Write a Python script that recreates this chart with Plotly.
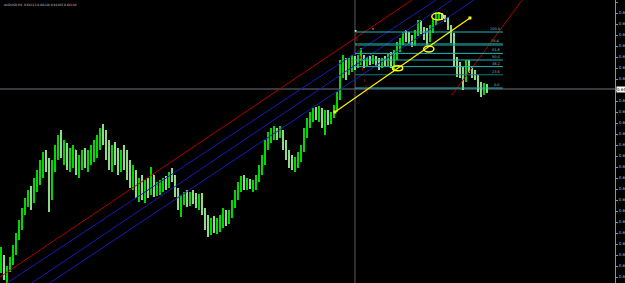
import plotly.graph_objects as go

# ---------------- data (AUDUSD, H4) ----------------
bar_open = [
 0.6230,0.6242,0.6225,0.6230,0.6238,0.6250,0.6262,0.6275,0.6288,0.6298,
 0.6305,0.6300,0.6315,0.6325,0.6332,0.6340,0.6335,0.6305,0.6332,0.6350,
 0.6360,0.6348,0.6352,0.6340,0.6345,0.6350,0.6332,0.6340,0.6345,0.6338,
 0.6342,0.6350,0.6355,0.6360,0.6368,0.6362,0.6350,0.6338,0.6350,0.6342,
 0.6335,0.6345,0.6338,0.6328,0.6320,0.6325,0.6310,0.6315,0.6305,0.6312,
 0.6308,0.6325,0.6310,0.6313,0.6315,0.6318,0.6315,0.6325,0.6322,0.6308,
 0.6295,0.6300,0.6302,0.6298,0.6303,0.6300,0.6297,0.6302,0.6290,0.6275,
 0.6270,0.6278,0.6272,0.6275,0.6280,0.6285,0.6280,0.6288,0.6295,0.6305,
 0.6314,0.6320,0.6315,0.6318,0.6314,0.6316,0.6322,0.6330,0.6340,0.6355,
 0.6363,0.6367,0.6370,0.6365,0.6369,0.6355,0.6345,0.6340,0.6335,0.6338,
 0.6342,0.6352,0.6365,0.6375,0.6382,0.6388,0.6384,0.6390,0.6380,0.6385,
 0.6382,0.6386,0.6392,0.6402,0.6432,0.6438,0.6428,0.6435,0.6438,0.6434,
 0.6440,0.6442,0.6438,0.6440,0.6438,0.6442,0.6439,0.6435,0.6440,0.6438,
 0.6442,0.6438,0.6445,0.6452,0.6458,0.6464,0.6462,0.6460,0.6457,0.6466,
 0.6475,0.6470,0.6464,0.6460,0.6468,0.6478,0.6482,0.6485,0.6483,0.6481,
 0.6474,0.6462,0.6438,0.6430,0.6427,0.6420,0.6435,0.6430,0.6425,0.6422,
 0.6412,0.6410,0.6414]
bar_high = [
 0.6253,0.6245,0.6234,0.6243,0.6255,0.6267,0.6280,0.6292,0.6302,0.6310,
 0.6314,0.6322,0.6330,0.6340,0.6348,0.6350,0.6342,0.6340,0.6355,0.6365,
 0.6370,0.6360,0.6357,0.6352,0.6355,0.6350,0.6345,0.6350,0.6352,0.6350,
 0.6355,0.6360,0.6365,0.6372,0.6376,0.6370,0.6360,0.6355,0.6358,0.6352,
 0.6350,0.6355,0.6350,0.6340,0.6335,0.6330,0.6322,0.6325,0.6320,0.6322,
 0.6333,0.6325,0.6318,0.6320,0.6322,0.6324,0.6328,0.6332,0.6325,0.6312,
 0.6305,0.6308,0.6310,0.6308,0.6310,0.6307,0.6306,0.6307,0.6292,0.6285,
 0.6282,0.6284,0.6282,0.6285,0.6292,0.6290,0.6290,0.6300,0.6310,0.6318,
 0.6324,0.6325,0.6322,0.6321,0.6320,0.6325,0.6335,0.6345,0.6360,0.6368,
 0.6372,0.6374,0.6372,0.6374,0.6370,0.6360,0.6350,0.6345,0.6343,0.6348,
 0.6355,0.6372,0.6382,0.6388,0.6392,0.6393,0.6394,0.6392,0.6390,0.6390,
 0.6388,0.6395,0.6408,0.6440,0.6445,0.6442,0.6442,0.6445,0.6444,0.6445,
 0.6452,0.6445,0.6443,0.6444,0.6445,0.6444,0.6442,0.6442,0.6444,0.6446,
 0.6448,0.6450,0.6458,0.6462,0.6468,0.6470,0.6468,0.6465,0.6470,0.6480,
 0.6480,0.6473,0.6472,0.6475,0.6482,0.6486,0.6488,0.6487,0.6485,0.6483,
 0.6475,0.6467,0.6443,0.6438,0.6433,0.6440,0.6440,0.6434,0.6430,0.6425,
 0.6418,0.6417,0.6416]
bar_low = [
 0.6227,0.6220,0.6217,0.6228,0.6235,0.6245,0.6260,0.6270,0.6285,0.6293,
 0.6290,0.6297,0.6308,0.6315,0.6322,0.6328,0.6288,0.6300,0.6328,0.6340,
 0.6342,0.6335,0.6330,0.6328,0.6332,0.6325,0.6322,0.6330,0.6332,0.6328,
 0.6335,0.6338,0.6342,0.6350,0.6355,0.6340,0.6330,0.6328,0.6335,0.6325,
 0.6328,0.6330,0.6320,0.6312,0.6310,0.6302,0.6298,0.6300,0.6297,0.6302,
 0.6305,0.6303,0.6304,0.6305,0.6308,0.6310,0.6312,0.6318,0.6303,0.6290,
 0.6283,0.6295,0.6293,0.6294,0.6296,0.6292,0.6290,0.6285,0.6270,0.6263,
 0.6265,0.6267,0.6266,0.6268,0.6272,0.6274,0.6276,0.6282,0.6292,0.6300,
 0.6308,0.6310,0.6310,0.6311,0.6308,0.6310,0.6318,0.6325,0.6335,0.6350,
 0.6357,0.6360,0.6360,0.6362,0.6350,0.6340,0.6332,0.6330,0.6328,0.6332,
 0.6338,0.6348,0.6362,0.6372,0.6378,0.6380,0.6378,0.6372,0.6365,0.6375,
 0.6376,0.6382,0.6388,0.6400,0.6422,0.6420,0.6425,0.6428,0.6430,0.6432,
 0.6435,0.6432,0.6434,0.6435,0.6436,0.6434,0.6430,0.6432,0.6434,0.6434,
 0.6432,0.6430,0.6440,0.6448,0.6455,0.6458,0.6456,0.6453,0.6454,0.6464,
 0.6466,0.6460,0.6455,0.6458,0.6467,0.6475,0.6480,0.6480,0.6478,0.6470,
 0.6457,0.6433,0.6423,0.6422,0.6410,0.6418,0.6427,0.6422,0.6420,0.6408,
 0.6403,0.6405,0.6407]
bar_close = [
 0.6245,0.6225,0.6230,0.6238,0.6250,0.6262,0.6275,0.6288,0.6298,0.6305,
 0.6300,0.6315,0.6325,0.6332,0.6340,0.6335,0.6305,0.6332,0.6350,0.6360,
 0.6348,0.6352,0.6340,0.6345,0.6350,0.6332,0.6340,0.6345,0.6338,0.6342,
 0.6350,0.6355,0.6360,0.6368,0.6362,0.6350,0.6338,0.6350,0.6342,0.6335,
 0.6345,0.6338,0.6328,0.6320,0.6325,0.6310,0.6315,0.6305,0.6312,0.6308,
 0.6325,0.6310,0.6313,0.6315,0.6318,0.6315,0.6325,0.6322,0.6308,0.6295,
 0.6300,0.6302,0.6298,0.6303,0.6300,0.6297,0.6302,0.6290,0.6275,0.6270,
 0.6278,0.6272,0.6275,0.6280,0.6285,0.6280,0.6288,0.6295,0.6305,0.6314,
 0.6320,0.6315,0.6318,0.6314,0.6316,0.6322,0.6330,0.6340,0.6355,0.6363,
 0.6367,0.6370,0.6365,0.6369,0.6355,0.6345,0.6340,0.6335,0.6338,0.6342,
 0.6352,0.6365,0.6375,0.6382,0.6388,0.6384,0.6390,0.6380,0.6385,0.6382,
 0.6386,0.6392,0.6402,0.6432,0.6438,0.6428,0.6435,0.6438,0.6434,0.6440,
 0.6442,0.6438,0.6440,0.6438,0.6442,0.6439,0.6435,0.6440,0.6438,0.6442,
 0.6438,0.6445,0.6452,0.6458,0.6464,0.6462,0.6460,0.6457,0.6466,0.6475,
 0.6470,0.6464,0.6460,0.6468,0.6478,0.6482,0.6485,0.6483,0.6481,0.6474,
 0.6462,0.6438,0.6430,0.6427,0.6420,0.6435,0.6430,0.6425,0.6422,0.6412,
 0.6410,0.6414,0.6411]

symbol_title = "AUDUSD,H4  0.64113 0.64120 0.64105 0.64110"

# price-axis ticks
tick_values = [0.6498, 0.6487, 0.6476, 0.6465, 0.6454, 0.6443, 0.6432, 0.6421,
               0.6410, 0.6399, 0.6388, 0.6377, 0.6366, 0.6355, 0.6344, 0.6333,
               0.6322, 0.6311, 0.6300, 0.6289, 0.6278, 0.6267, 0.6256, 0.6245,
               0.6234, 0.6223]
tick_labels = ["%.4f" % v for v in tick_values]

# drawing objects (bar index, price)
red_channel = [(-0.33, 0.6223, 137.0, 0.6500), (150.3, 0.6405, 173.7, 0.6500)]
blue_channel = [(2.0, 0.6217, 145.0, 0.6500),
                (10.3, 0.6217, 150.3, 0.6500),
                (16.3, 0.6217, 157.7, 0.6500)]
yellow_trend = (111.3, 0.6388, 156.3, 0.6482)
yellow_ellipses = [(132.2, 0.64317, 1.7, 0.00025),
                   (142.6, 0.6451, 1.7, 0.0003),
                   (145.6, 0.64835, 2.0, 0.00035)]
fib_left, fib_right = 118.0, 167.3
fib_low, fib_high = 0.6412, 0.6468
fib_levels = [0.0, 23.6, 38.2, 50.0, 61.8, 76.4, 78.6, 100.0]
fib_texts = ["0.0", "23.6", "38.2", "50.0", "61.8", "", "76.4", "100.0"]
fib_dark = [False, True, False, False, False, True, False, False]
fib_trend = (118.2, 0.6468, 122.3, 0.6403)
vline_bar = 118.0
last_price = bar_close[-1]

# ---------------- figure ----------------
x = list(range(len(bar_close)))
fig = go.Figure()
fig.add_trace(go.Ohlc(
    x=x, open=bar_open, high=bar_high, low=bar_low, close=bar_close,
    increasing=dict(line=dict(color="#00ff00", width=1.7)),
    decreasing=dict(line=dict(color="#a8ffa0", width=1.7)),
    tickwidth=0.2, hoverinfo="skip", showlegend=False))

shapes = []
# crosshair
shapes.append(dict(type="line", xref="paper", x0=0, x1=1, yref="y", y0=last_price, y1=last_price,
                   line=dict(color="#6c7480", width=1), layer="below"))
shapes.append(dict(type="line", xref="x", x0=vline_bar, x1=vline_bar, yref="paper", y0=0, y1=1,
                   line=dict(color="#5a5a66", width=1), layer="below"))
for (a, b, c, d) in red_channel:
    shapes.append(dict(type="line", x0=a, y0=b, x1=c, y1=d, line=dict(color="#b00000", width=1)))
for (a, b, c, d) in blue_channel:
    shapes.append(dict(type="line", x0=a, y0=b, x1=c, y1=d, line=dict(color="#1a1ab8", width=1)))
# fibonacci
for lv, txt, dk in zip(fib_levels, fib_texts, fib_dark):
    p = fib_low + (fib_high - fib_low) * lv / 100.0
    shapes.append(dict(type="line", x0=fib_left, x1=fib_right, y0=p, y1=p,
                       line=dict(color="#137a7a" if dk else "#20b8b8", width=1)))
    if txt:
        fig.add_annotation(x=fib_right - 0.3, y=p, text=txt, showarrow=False,
                           xanchor="right", yanchor="bottom", yshift=-1,
                           font=dict(size=3.5, color="#8fb8c0", family="DejaVu Sans"))
a, b, c, d = fib_trend
shapes.append(dict(type="line", x0=a, y0=b, x1=c, y1=d, line=dict(color="#a00000", width=1, dash="dot")))
# yellow trend line and ellipses
a, b, c, d = yellow_trend
shapes.append(dict(type="line", x0=a, y0=b, x1=c, y1=d, line=dict(color="#ffee00", width=1.3)))
for (cx, cy, rx, ry) in yellow_ellipses:
    shapes.append(dict(type="circle", x0=cx - rx, x1=cx + rx, y0=cy - ry, y1=cy + ry,
                       line=dict(color="#ffff00", width=1.5)))
fig.add_trace(go.Scatter(x=[a, c], y=[b, d], mode="markers",
                         marker=dict(color="#ffff00", size=3, symbol="square"),
                         hoverinfo="skip", showlegend=False))
fig.add_trace(go.Scatter(x=[118.2, 124.0], y=[0.6469, 0.6471], mode="markers",
                         marker=dict(color=["#ffffff", "#ff3030"], size=2),
                         hoverinfo="skip", showlegend=False))

fig.add_annotation(xref="paper", yref="paper", x=0.003, y=0.995, text=symbol_title,
                   showarrow=False, xanchor="left", yanchor="top",
                   font=dict(size=3, color="#c8c8c8", family="DejaVu Sans"))
fig.add_annotation(xref="paper", x=1.0, y=last_price, text="%.4f" % last_price, showarrow=False,
                   xanchor="left", yanchor="middle", xshift=1, bgcolor="#ffffff",
                   borderpad=0, font=dict(size=4, color="#000000", family="DejaVu Sans"))

fig.update_layout(
    width=625, height=283, margin=dict(l=0, r=10, t=0, b=0),
    paper_bgcolor="#000000", plot_bgcolor="#000000",
    shapes=shapes, showlegend=False, template="none",
    xaxis=dict(range=[-0.333, 204.667], visible=False, rangeslider=dict(visible=False),
               showgrid=False, zeroline=False),
    yaxis=dict(range=[0.6217, 0.6500], side="right", showgrid=False, zeroline=False,
               showline=True, linecolor="#909090", linewidth=1,
               ticks="outside", ticklen=2, tickcolor="#909090",
               tickvals=tick_values, ticktext=tick_labels, automargin=False,
               tickfont=dict(size=4, color="#b8b8b8", family="DejaVu Sans")),
)
fig.write_html("out.html")
